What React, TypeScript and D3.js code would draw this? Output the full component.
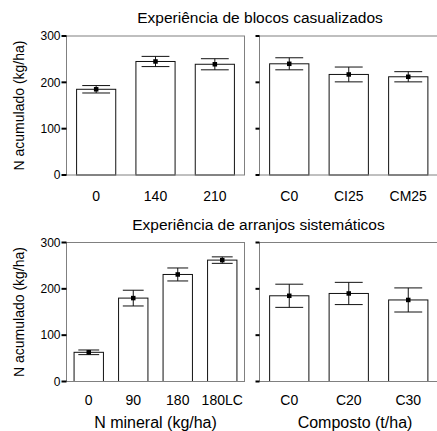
import React from "react";
import * as d3 from "d3";

// ---- data ----
const topLeftCats = ["0", "140", "210"];
const topLeftVals = [185, 245, 239];
const topLeftErr = [8, 11, 12];

const topRightCats = ["C0", "CI25", "CM25"];
const topRightVals = [240, 217, 212];
const topRightErr = [13, 16, 11];

const botLeftCats = ["0", "90", "180", "180LC"];
const botLeftVals = [63, 180, 231, 262];
const botLeftErr = [5, 17, 14, 7];

const botRightCats = ["C0", "C20", "C30"];
const botRightVals = [185, 190, 176];
const botRightErr = [25, 24, 26];

const yTicks = [0, 100, 200, 300];
const titles = ["Experiência de blocos casualizados", "Experiência de arranjos sistemáticos"];
const yLabel = "N acumulado (kg/ha)";
const xTitles = ["N mineral (kg/ha)", "Composto (t/ha)"];

const W = 437;
const H = 431;
const FONT = "Liberation Sans, Arial, Helvetica, sans-serif";

type PanelProps = {
  x0: number;
  x1: number;
  y0: number;
  y1: number;
  cats: string[];
  vals: number[];
  errs: number[];
  showYLabels: boolean;
  tickLen: number;
  labelOffset: number;
};

function Panel({ x0, x1, y0, y1, cats, vals, errs, showYLabels, tickLen, labelOffset }: PanelProps) {
  const x = d3.scaleBand<string>().domain(cats).range([x0, x1]).paddingInner(0.34).paddingOuter(0.17);
  const y = d3.scaleLinear().domain([0, 300]).range([y1, y0]);
  const bw = x.bandwidth();
  const capW = bw * 0.71;
  const ms = 4.5;
  return (
    <g>
      {cats.map((c, i) => {
        const cx = (x(c) as number) + bw / 2;
        const v = vals[i];
        const e = errs[i];
        return (
          <g key={c}>
            <rect x={x(c)} y={y(v)} width={bw} height={y(0) - y(v)} fill="#fff" stroke="#111" strokeWidth={1} />
            <line x1={cx} x2={cx} y1={y(v + e)} y2={y(v - e)} stroke="#111" strokeWidth={1} />
            <line x1={cx - capW / 2} x2={cx + capW / 2} y1={y(v + e)} y2={y(v + e)} stroke="#111" strokeWidth={1} />
            <line x1={cx - capW / 2} x2={cx + capW / 2} y1={y(v - e)} y2={y(v - e)} stroke="#111" strokeWidth={1} />
            <rect x={cx - ms / 2} y={y(v) - ms / 2} width={ms} height={ms} fill="#000" />
          </g>
        );
      })}
      <rect x={x0} y={y0} width={x1 - x0} height={y1 - y0} fill="none" stroke="#808080" strokeWidth={1} />
      {yTicks.map((t) => (
        <g key={t}>
          <line x1={x0 - tickLen} x2={x0} y1={y(t)} y2={y(t)} stroke="#000" strokeWidth={2} />
          {showYLabels && (
            <text x={x0 - tickLen - 1} y={y(t)} dy="0.35em" textAnchor="end" fontSize={12} fontFamily={FONT} fill="#000">
              {t}
            </text>
          )}
        </g>
      ))}
      {cats.map((c) => (
        <text
          key={"l" + c}
          x={(x(c) as number) + bw / 2}
          y={y1 + labelOffset}
          textAnchor="middle"
          fontSize={14}
          fontFamily={FONT}
          fill="#000"
        >
          {c}
        </text>
      ))}
    </g>
  );
}

export default function App() {
  const lx0 = 66.5;
  const lx1 = 244.5;
  const rx0 = 259.5;
  const rx1 = 438;
  const tY0 = 36;
  const tY1 = 175;
  const bY0 = 242.5;
  const bY1 = 381.5;
  return (
    <svg width={W} height={H} style={{ position: "absolute", left: 0, top: 0, background: "#fff" }}>
      <rect x={0} y={0} width={W} height={H} fill="#fff" />
      <text x={260} y={23} textAnchor="middle" fontSize={15.5} fontFamily={FONT}>
        {titles[0]}
      </text>
      <text x={258.5} y={230} textAnchor="middle" fontSize={15.5} fontFamily={FONT}>
        {titles[1]}
      </text>
      <Panel x0={lx0} x1={lx1} y0={tY0} y1={tY1} cats={topLeftCats} vals={topLeftVals} errs={topLeftErr} showYLabels tickLen={5} labelOffset={26} />
      <Panel x0={rx0} x1={rx1} y0={tY0} y1={tY1} cats={topRightCats} vals={topRightVals} errs={topRightErr} showYLabels={false} tickLen={4} labelOffset={26} />
      <Panel x0={lx0} x1={lx1} y0={bY0} y1={bY1} cats={botLeftCats} vals={botLeftVals} errs={botLeftErr} showYLabels tickLen={5} labelOffset={23} />
      <Panel x0={rx0} x1={rx1} y0={bY0} y1={bY1} cats={botRightCats} vals={botRightVals} errs={botRightErr} showYLabels={false} tickLen={4} labelOffset={23} />
      <text transform={`translate(24,${(tY0 + tY1) / 2}) rotate(-90)`} textAnchor="middle" fontSize={14} fontFamily={FONT}>
        {yLabel}
      </text>
      <text transform={`translate(24,${(bY0 + bY1) / 2}) rotate(-90)`} textAnchor="middle" fontSize={14} fontFamily={FONT}>
        {yLabel}
      </text>
      <text x={(lx0 + lx1) / 2} y={428} textAnchor="middle" fontSize={16} fontFamily={FONT}>
        {xTitles[0]}
      </text>
      <text x={355} y={428} textAnchor="middle" fontSize={16} fontFamily={FONT}>
        {xTitles[1]}
      </text>
    </svg>
  );
}
